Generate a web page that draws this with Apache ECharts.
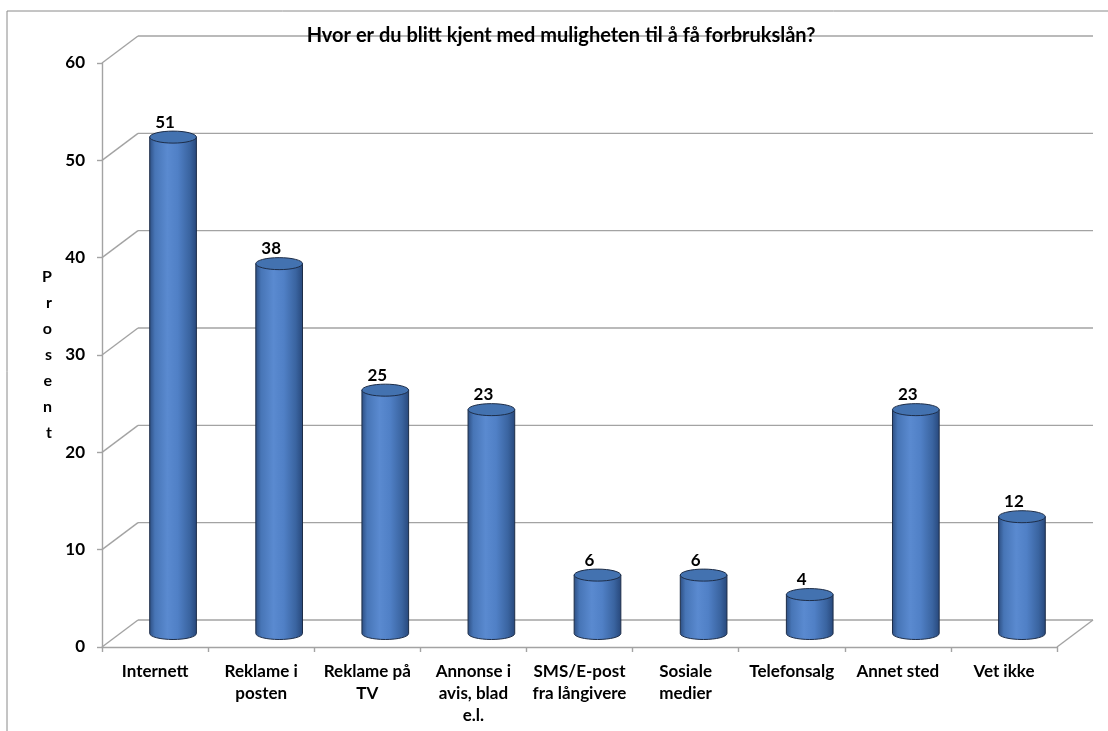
<!DOCTYPE html>
<html>
<head>
<meta charset="utf-8">
<script src="https://cdn.jsdelivr.net/npm/echarts@6/dist/echarts.min.js"></script>
<style>
  html, body { margin: 0; padding: 0; background: #fff; }
  #chart { width: 1108px; height: 731px; }
</style>
</head>
<body>
<div id="chart"></div>
<script>
const categories = [
  "Internett",
  "Reklame i\nposten",
  "Reklame på\nTV",
  "Annonse i\navis, blad\ne.l.",
  "SMS/E-post\nfra långivere",
  "Sosiale\nmedier",
  "Telefonsalg",
  "Annet sted",
  "Vet ikke",
];
const values = [51, 38, 25, 23, 6, 6, 4, 23, 12];
const yTicks = [0, 10, 20, 30, 40, 50, 60];

// depth of the fake 3D box (back wall is shifted right/up)
const DEPTH_X = 36;
const DEPTH_Y = 27;
const gridColor = "#a3a3a3";
const font = "Lato";

function renderWall(params, api) {
  const cs = params.coordSys;
  const v = api.value(1);
  const y = api.coord([0, v])[1];
  const x0 = cs.x;
  const x1 = cs.x + cs.width;
  const style = { stroke: gridColor, lineWidth: 1.4 };
  const children = [
    { type: "line", shape: { x1: x0, y1: y, x2: x0 + DEPTH_X, y2: y - DEPTH_Y }, style },
    { type: "line", shape: { x1: x0 + DEPTH_X, y1: y - DEPTH_Y, x2: x1 + DEPTH_X, y2: y - DEPTH_Y }, style },
  ];
  if (v === 0) {
    children.push({ type: "line", shape: { x1: x1, y1: y, x2: x1 + DEPTH_X, y2: y - DEPTH_Y }, style });
  }
  return { type: "group", children };
}

function renderCylinder(params, api) {
  const v = api.value(1);
  const top = api.coord([api.value(0), v]);
  const base = api.coord([api.value(0), 0]);
  const band = api.size([1, 0])[0];
  const rx = band * 0.22;
  const ry = 6;
  const cx = top[0] + DEPTH_X / 2;
  const yt = top[1] - DEPTH_Y / 2;
  const yb = base[1] - DEPTH_Y / 2;
  const body =
    `M${cx - rx},${yt} L${cx - rx},${yb} A${rx},${ry} 0 0 0 ${cx + rx},${yb} L${cx + rx},${yt} Z`;
  const cap =
    `M${cx - rx},${yt} A${rx},${ry} 0 1 1 ${cx + rx},${yt} A${rx},${ry} 0 1 1 ${cx - rx},${yt} Z`;
  return {
    type: "group",
    children: [
      {
        type: "path",
        shape: { pathData: body },
        style: {
          fill: {
            type: "linear", x: 0, y: 0, x2: 1, y2: 0,
            colorStops: [
              { offset: 0, color: "#2c4d80" },
              { offset: 0.12, color: "#4775b6" },
              { offset: 0.38, color: "#5a8ad0" },
              { offset: 0.6, color: "#5080c6" },
              { offset: 0.85, color: "#3a64a0" },
              { offset: 1, color: "#27477a" },
            ],
          },
          stroke: "#1d2d48",
          lineWidth: 1,
        },
      },
      {
        type: "path",
        shape: { pathData: cap },
        style: { fill: "#4372b0", stroke: "#1d2d48", lineWidth: 1 },
      },
      {
        type: "text",
        x: cx - 8,
        y: yt - ry - 9,
        style: {
          text: String(v),
          fontFamily: font,
          fontWeight: "bold",
          fontSize: 17,
          fill: "#000",
          align: "center",
          verticalAlign: "middle",
        },
      },
    ],
  };
}

const chart = echarts.init(document.getElementById("chart"));
chart.setOption({
  animation: false,
  backgroundColor: "#fff",
  graphic: [
    {
      type: "rect",
      z: -10,
      shape: { x: 7, y: 11, width: 1110, height: 730 },
      style: { fill: "none", stroke: "#8a8a8a", lineWidth: 1 },
    },
    {
      type: "text",
      z: 10,
      x: 561,
      y: 36,
      style: {
        text: "Hvor er du blitt kjent med muligheten til å få forbrukslån?",
        fontFamily: font,
        fontWeight: "bold",
        fontSize: 20,
        fill: "#000",
        align: "center",
        verticalAlign: "middle",
      },
    },
  ],
  grid: { left: 102, right: 51, top: 63, bottom: 84 },
  xAxis: {
    type: "category",
    data: categories,
    axisLine: { lineStyle: { color: gridColor, width: 1.4 } },
    axisTick: { show: true, length: 5, lineStyle: { color: gridColor, width: 1.4 } },
    axisLabel: {
      interval: 0,
      color: "#000",
      fontFamily: font,
      fontWeight: "bold",
      fontSize: 17,
      lineHeight: 22,
      margin: 14,
    },
  },
  yAxis: {
    type: "value",
    min: 0,
    max: 60,
    interval: 10,
    name: "P\nr\no\ns\ne\nn\nt",
    nameLocation: "middle",
    nameRotate: 0,
    nameGap: 50,
    nameTextStyle: {
      color: "#000",
      fontFamily: font,
      fontWeight: "bold",
      fontSize: 16,
      lineHeight: 26,
    },
    axisLine: { show: true, lineStyle: { color: gridColor, width: 1.4 } },
    axisTick: { show: true, length: 5, lineStyle: { color: gridColor, width: 1.4 } },
    splitLine: { show: false },
    axisLabel: {
      color: "#000",
      fontFamily: font,
      fontWeight: "bold",
      fontSize: 17,
      margin: 17,
    },
  },
  series: [
    {
      type: "custom",
      z: 1,
      renderItem: renderWall,
      data: yTicks.map((t) => [0, t]),
      silent: true,
    },
    {
      type: "custom",
      z: 5,
      renderItem: renderCylinder,
      data: values.map((v, i) => [i, v]),
    },
  ],
});
</script>
</body>
</html>
